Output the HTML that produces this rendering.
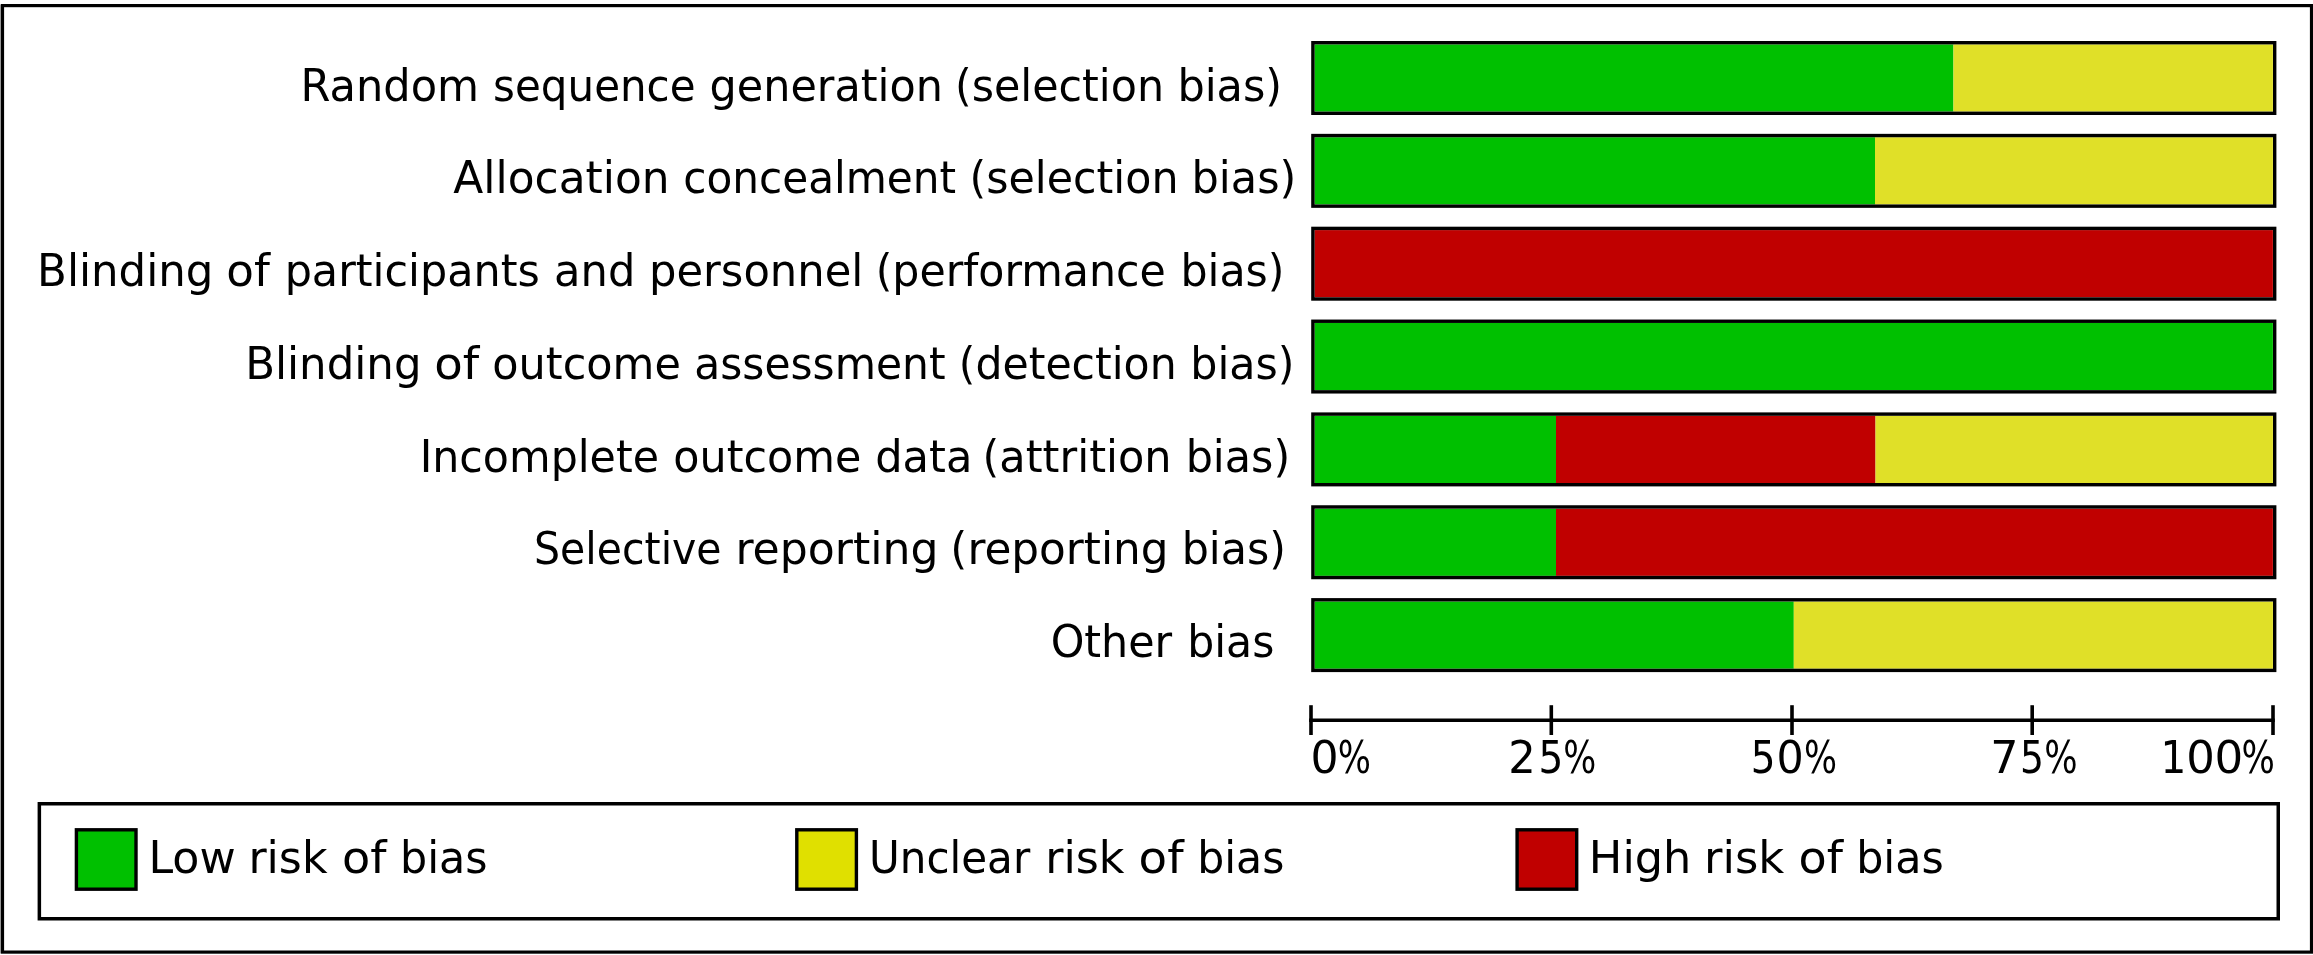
<!DOCTYPE html>
<html lang="en"><head><meta charset="utf-8"><title>Risk of bias graph</title>
<style>html,body{margin:0;padding:0;background:#fff;overflow:hidden}svg{display:block;will-change:transform}text{font-family:'DejaVu Sans', 'Liberation Sans', sans-serif;font-size:44.3px;fill:#000}</style></head><body>
<svg width="2313" height="955" viewBox="0 0 2313 955">
<rect x="0" y="0" width="2313" height="955" fill="#fff"/>
<rect x="0" y="4.5" width="1" height="949" fill="#aaa"/>
<rect x="2.5" y="5.6" width="2309" height="946.5" fill="none" stroke="#000" stroke-width="3.2"/>
<g>
<text y="100.60"><tspan x="300.47" textLength="178.59" lengthAdjust="spacingAndGlyphs">Random</tspan> <tspan x="493.12" textLength="202.46" lengthAdjust="spacingAndGlyphs">sequence</tspan> <tspan x="709.53" textLength="233.48" lengthAdjust="spacingAndGlyphs">generation</tspan> <tspan x="954.96" textLength="209.12" lengthAdjust="spacingAndGlyphs">(selection</tspan> <tspan x="1177.39" textLength="104.76" lengthAdjust="spacingAndGlyphs">bias)</tspan></text>
<text y="193.35"><tspan x="453.33" textLength="216.24" lengthAdjust="spacingAndGlyphs">Allocation</tspan> <tspan x="683.18" textLength="272.97" lengthAdjust="spacingAndGlyphs">concealment</tspan> <tspan x="969.55" textLength="209.02" lengthAdjust="spacingAndGlyphs">(selection</tspan> <tspan x="1191.58" textLength="104.78" lengthAdjust="spacingAndGlyphs">bias)</tspan></text>
<text y="286.10"><tspan x="37.08" textLength="176.32" lengthAdjust="spacingAndGlyphs">Blinding</tspan> <tspan x="226.30" textLength="43.57" lengthAdjust="spacingAndGlyphs">of</tspan> <tspan x="284.65" textLength="255.22" lengthAdjust="spacingAndGlyphs">participants</tspan> <tspan x="554.12" textLength="81.19" lengthAdjust="spacingAndGlyphs">and</tspan> <tspan x="649.02" textLength="214.32" lengthAdjust="spacingAndGlyphs">personnel</tspan> <tspan x="875.73" textLength="290.07" lengthAdjust="spacingAndGlyphs">(performance</tspan> <tspan x="1180.42" textLength="104.09" lengthAdjust="spacingAndGlyphs">bias)</tspan></text>
<text y="378.85"><tspan x="245.13" textLength="176.40" lengthAdjust="spacingAndGlyphs">Blinding</tspan> <tspan x="434.31" textLength="44.97" lengthAdjust="spacingAndGlyphs">of</tspan> <tspan x="492.31" textLength="188.58" lengthAdjust="spacingAndGlyphs">outcome</tspan> <tspan x="694.30" textLength="251.29" lengthAdjust="spacingAndGlyphs">assessment</tspan> <tspan x="958.77" textLength="217.95" lengthAdjust="spacingAndGlyphs">(detection</tspan> <tspan x="1190.25" textLength="104.27" lengthAdjust="spacingAndGlyphs">bias)</tspan></text>
<text y="471.60"><tspan x="419.68" textLength="239.29" lengthAdjust="spacingAndGlyphs">Incomplete</tspan> <tspan x="673.36" textLength="187.99" lengthAdjust="spacingAndGlyphs">outcome</tspan> <tspan x="875.23" textLength="97.19" lengthAdjust="spacingAndGlyphs">data</tspan> <tspan x="982.58" textLength="188.99" lengthAdjust="spacingAndGlyphs">(attrition</tspan> <tspan x="1185.67" textLength="104.48" lengthAdjust="spacingAndGlyphs">bias)</tspan></text>
<text y="564.35"><tspan x="534.00" textLength="187.63" lengthAdjust="spacingAndGlyphs">Selective</tspan> <tspan x="735.45" textLength="203.07" lengthAdjust="spacingAndGlyphs">reporting</tspan> <tspan x="950.33" textLength="218.19" lengthAdjust="spacingAndGlyphs">(reporting</tspan> <tspan x="1181.73" textLength="104.21" lengthAdjust="spacingAndGlyphs">bias)</tspan></text>
<text y="657.10"><tspan x="1050.64" textLength="121.55" lengthAdjust="spacingAndGlyphs">Other</tspan> <tspan x="1187.29" textLength="87.10" lengthAdjust="spacingAndGlyphs">bias</tspan></text>
</g>
<g>
<rect x="1314.50" y="44.40" width="638.95" height="67.20" fill="#00C000"/>
<rect x="1953.45" y="44.40" width="319.45" height="67.20" fill="#E0E028"/>
<rect x="1312.90" y="42.70" width="961.80" height="70.60" fill="none" stroke="#000" stroke-width="3.4"/>
</g>
<g>
<rect x="1314.50" y="137.25" width="560.50" height="67.20" fill="#00C000"/>
<rect x="1875.00" y="137.25" width="397.90" height="67.20" fill="#E0E028"/>
<rect x="1312.90" y="135.55" width="961.80" height="70.60" fill="none" stroke="#000" stroke-width="3.4"/>
</g>
<g>
<rect x="1314.50" y="230.10" width="958.40" height="67.20" fill="#C00000"/>
<rect x="1312.90" y="228.40" width="961.80" height="70.60" fill="none" stroke="#000" stroke-width="3.4"/>
</g>
<g>
<rect x="1314.50" y="322.95" width="958.40" height="67.20" fill="#00C000"/>
<rect x="1312.90" y="321.25" width="961.80" height="70.60" fill="none" stroke="#000" stroke-width="3.4"/>
</g>
<g>
<rect x="1314.50" y="415.80" width="241.50" height="67.20" fill="#00C000"/>
<rect x="1556.00" y="415.80" width="319.50" height="67.20" fill="#C00000"/>
<rect x="1875.50" y="415.80" width="397.40" height="67.20" fill="#E0E028"/>
<rect x="1312.90" y="414.10" width="961.80" height="70.60" fill="none" stroke="#000" stroke-width="3.4"/>
</g>
<g>
<rect x="1314.50" y="508.65" width="241.50" height="67.20" fill="#00C000"/>
<rect x="1556.00" y="508.65" width="716.90" height="67.20" fill="#C00000"/>
<rect x="1312.90" y="506.95" width="961.80" height="70.60" fill="none" stroke="#000" stroke-width="3.4"/>
</g>
<g>
<rect x="1314.50" y="601.50" width="479.30" height="67.20" fill="#00C000"/>
<rect x="1793.80" y="601.50" width="479.10" height="67.20" fill="#E0E028"/>
<rect x="1312.90" y="599.80" width="961.80" height="70.60" fill="none" stroke="#000" stroke-width="3.4"/>
</g>
<line x1="1309.1" y1="720.25" x2="2274.7" y2="720.25" stroke="#000" stroke-width="3.6"/>
<line x1="1311.0" y1="705.2" x2="1311.0" y2="735" stroke="#000" stroke-width="3.6"/>
<line x1="1551.3" y1="705.2" x2="1551.3" y2="735" stroke="#000" stroke-width="3.6"/>
<line x1="1792.0" y1="705.2" x2="1792.0" y2="735" stroke="#000" stroke-width="3.6"/>
<line x1="2032.2" y1="705.2" x2="2032.2" y2="735" stroke="#000" stroke-width="3.6"/>
<line x1="2273.0" y1="705.2" x2="2273.0" y2="735" stroke="#000" stroke-width="3.6"/>
<text y="773.30"><tspan x="1310.53" textLength="28.10" lengthAdjust="spacingAndGlyphs">0</tspan><tspan x="1337.81" textLength="33.21" lengthAdjust="spacingAndGlyphs">%</tspan></text>
<text y="773.30"><tspan x="1508.29" textLength="27.52" lengthAdjust="spacingAndGlyphs">2</tspan><tspan x="1538.46" textLength="24.78" lengthAdjust="spacingAndGlyphs">5</tspan><tspan x="1563.34" textLength="33.02" lengthAdjust="spacingAndGlyphs">%</tspan></text>
<text y="773.30"><tspan x="1750.73" textLength="24.72" lengthAdjust="spacingAndGlyphs">5</tspan><tspan x="1776.51" textLength="27.25" lengthAdjust="spacingAndGlyphs">0</tspan><tspan x="1804.06" textLength="33.05" lengthAdjust="spacingAndGlyphs">%</tspan></text>
<text y="773.30"><tspan x="1990.25" textLength="28.28" lengthAdjust="spacingAndGlyphs">7</tspan><tspan x="2020.05" textLength="23.96" lengthAdjust="spacingAndGlyphs">5</tspan><tspan x="2044.19" textLength="33.34" lengthAdjust="spacingAndGlyphs">%</tspan></text>
<text y="773.30"><tspan x="2160.43" textLength="25.81" lengthAdjust="spacingAndGlyphs">1</tspan><tspan x="2186.32" textLength="28.63" lengthAdjust="spacingAndGlyphs">0</tspan><tspan x="2214.58" textLength="28.73" lengthAdjust="spacingAndGlyphs">0</tspan><tspan x="2241.39" textLength="33.39" lengthAdjust="spacingAndGlyphs">%</tspan></text>
<rect x="39.35" y="803.75" width="2238.9" height="115" fill="none" stroke="#000" stroke-width="3.5"/>
<rect x="76.40" y="829.80" width="59.60" height="59.40" fill="#00C000" stroke="#000" stroke-width="3.4"/>
<text y="873.20"><tspan x="148.46" textLength="87.21" lengthAdjust="spacingAndGlyphs">Low</tspan> <tspan x="248.39" textLength="79.19" lengthAdjust="spacingAndGlyphs">risk</tspan> <tspan x="342.07" textLength="44.51" lengthAdjust="spacingAndGlyphs">of</tspan> <tspan x="400.02" textLength="87.53" lengthAdjust="spacingAndGlyphs">bias</tspan></text>
<rect x="796.80" y="829.80" width="59.60" height="59.40" fill="#E0E000" stroke="#000" stroke-width="3.4"/>
<text y="873.20"><tspan x="868.97" textLength="161.22" lengthAdjust="spacingAndGlyphs">Unclear</tspan> <tspan x="1045.20" textLength="79.36" lengthAdjust="spacingAndGlyphs">risk</tspan> <tspan x="1138.59" textLength="45.01" lengthAdjust="spacingAndGlyphs">of</tspan> <tspan x="1197.29" textLength="87.10" lengthAdjust="spacingAndGlyphs">bias</tspan></text>
<rect x="1517.10" y="829.80" width="59.60" height="59.40" fill="#C00000" stroke="#000" stroke-width="3.4"/>
<text y="873.20"><tspan x="1588.89" textLength="102.50" lengthAdjust="spacingAndGlyphs">High</tspan> <tspan x="1704.06" textLength="80.25" lengthAdjust="spacingAndGlyphs">risk</tspan> <tspan x="1798.51" textLength="44.46" lengthAdjust="spacingAndGlyphs">of</tspan> <tspan x="1856.14" textLength="87.58" lengthAdjust="spacingAndGlyphs">bias</tspan></text>
</svg>
</body></html>
